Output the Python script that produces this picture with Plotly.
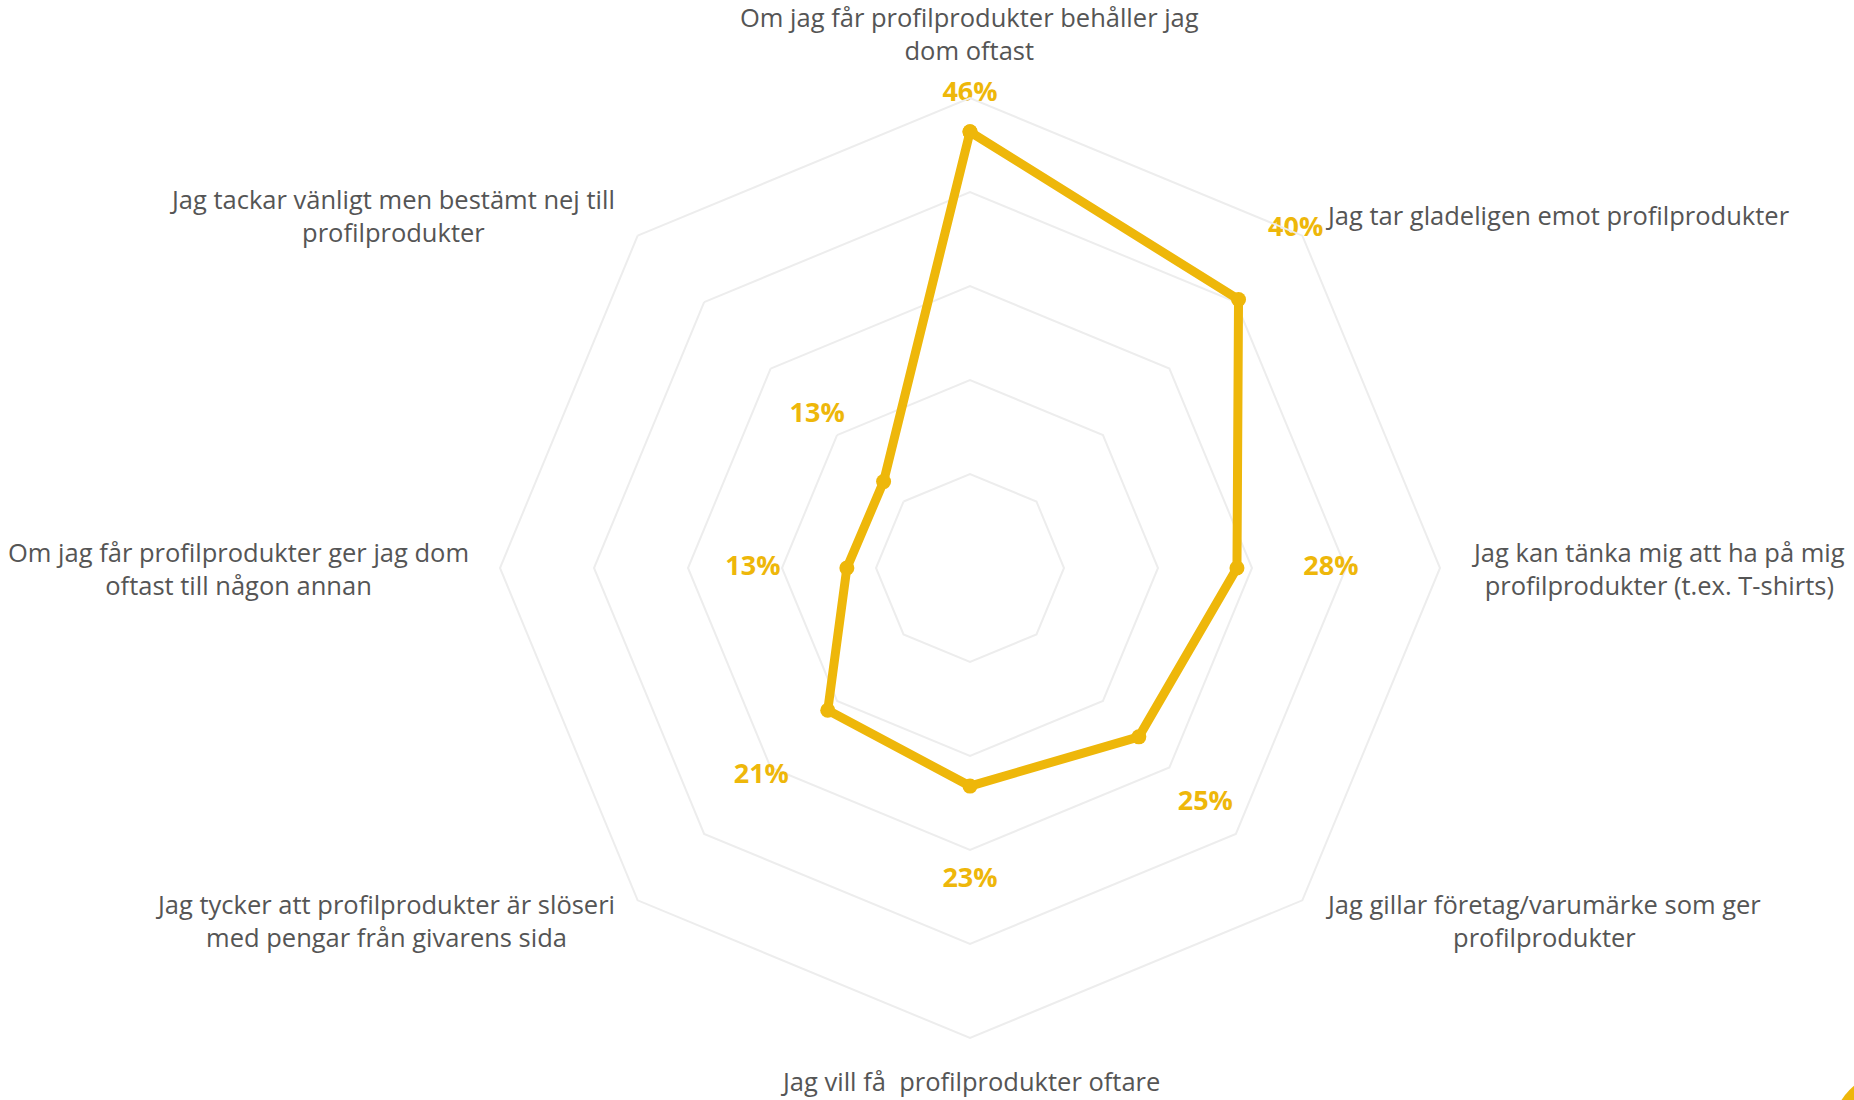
import math
import plotly.graph_objects as go

categories = [
    "Om jag får profilprodukter behåller jag<br>dom oftast",
    "Jag tar gladeligen emot profilprodukter",
    "Jag kan tänka mig att ha på mig<br>profilprodukter (t.ex. T-shirts)",
    "Jag gillar företag/varumärke som ger<br>profilprodukter",
    "Jag vill få  profilprodukter oftare",
    "Jag tycker att profilprodukter är slöseri<br>med pengar från givarens sida",
    "Om jag får profilprodukter ger jag dom<br>oftast till någon annan",
    "Jag tackar vänligt men bestämt nej till<br>profilprodukter",
]
values = [46.4, 40.4, 28.4, 25.4, 23.2, 21.4, 13.1, 13.0]
radial_ticks = [0, 10, 20, 30, 40, 50]

GOLD = "#EEB70A"
GRID = "#EDEDED"
TEXT = "#555555"
FONT = "Open Sans"

W, H = 1854, 1100
CX, CY, R = 970, 568, 470          # polar centre / radius in pixels
LABEL_PAD = 29                     # gap between outer ring and category label

theta_closed = categories + [categories[0]]
r_closed = values + [values[0]]

fig = go.Figure()
fig.add_trace(go.Scatterpolar(
    r=r_closed, theta=theta_closed, mode="lines+markers",
    line=dict(color=GOLD, width=9),
    marker=dict(color=GOLD, size=15),
    hoverinfo="skip", showlegend=False,
))
# value labels, placed just outside each point
label_r = [min(v + 10, 49) for v in values]
label_pos = ["top center" if v + 10 > 49 else "middle center" for v in values]
fig.add_trace(go.Scatterpolar(
    r=label_r, theta=categories, mode="text",
    text=[f"<b>{round(v)}%</b>" for v in values],
    textposition=label_pos,
    textfont=dict(family=FONT, size=27, color=GOLD),
    cliponaxis=False, hoverinfo="skip", showlegend=False,
))

# category labels around the outer ring, centred line by line
annotations = []
n = len(categories)
for i, cat in enumerate(categories):
    ang = math.radians(90 - i * 360 / n)
    c, s = math.cos(ang), math.sin(ang)
    px = CX + (R + LABEL_PAD) * c
    py = CY - (R + LABEL_PAD) * s
    if abs(c) < 1e-6:
        xanchor = "center"
        yanchor = "bottom" if s > 0 else "top"
        if s < 0:
            py -= 5
    else:
        xanchor = "left" if c > 0 else "right"
        yanchor = "middle"
    annotations.append(dict(
        text=cat, x=px / W, y=1 - py / H, xref="paper", yref="paper",
        xanchor=xanchor, yanchor=yanchor, align="center", showarrow=False,
        font=dict(family=FONT, size=25.5, color=TEXT),
    ))

fig.update_layout(
    width=W, height=H,
    margin=dict(l=0, r=0, t=0, b=0),
    paper_bgcolor="white", plot_bgcolor="white",
    font=dict(family=FONT, size=24, color=TEXT),
    polar=dict(
        domain=dict(x=[(CX - R) / W, (CX + R) / W],
                    y=[1 - (CY + R) / H, 1 - (CY - R) / H]),
        bgcolor="white",
        gridshape="linear",
        radialaxis=dict(range=[0, 50], tickvals=radial_ticks, showticklabels=False,
                        showline=False, ticks="", gridcolor=GRID, gridwidth=2),
        angularaxis=dict(rotation=90, direction="clockwise", showgrid=False,
                         showline=True, linecolor=GRID, linewidth=2,
                         ticks="", showticklabels=False),
    ),
    annotations=annotations,
    shapes=[dict(type="circle", xref="paper", yref="paper",
                 x0=(1890 - 57) / W, x1=(1890 + 57) / W,
                 y0=1 - (1130 + 57) / H, y1=1 - (1130 - 57) / H,
                 fillcolor=GOLD, line=dict(width=0))],
)

fig.write_html("out.html")
